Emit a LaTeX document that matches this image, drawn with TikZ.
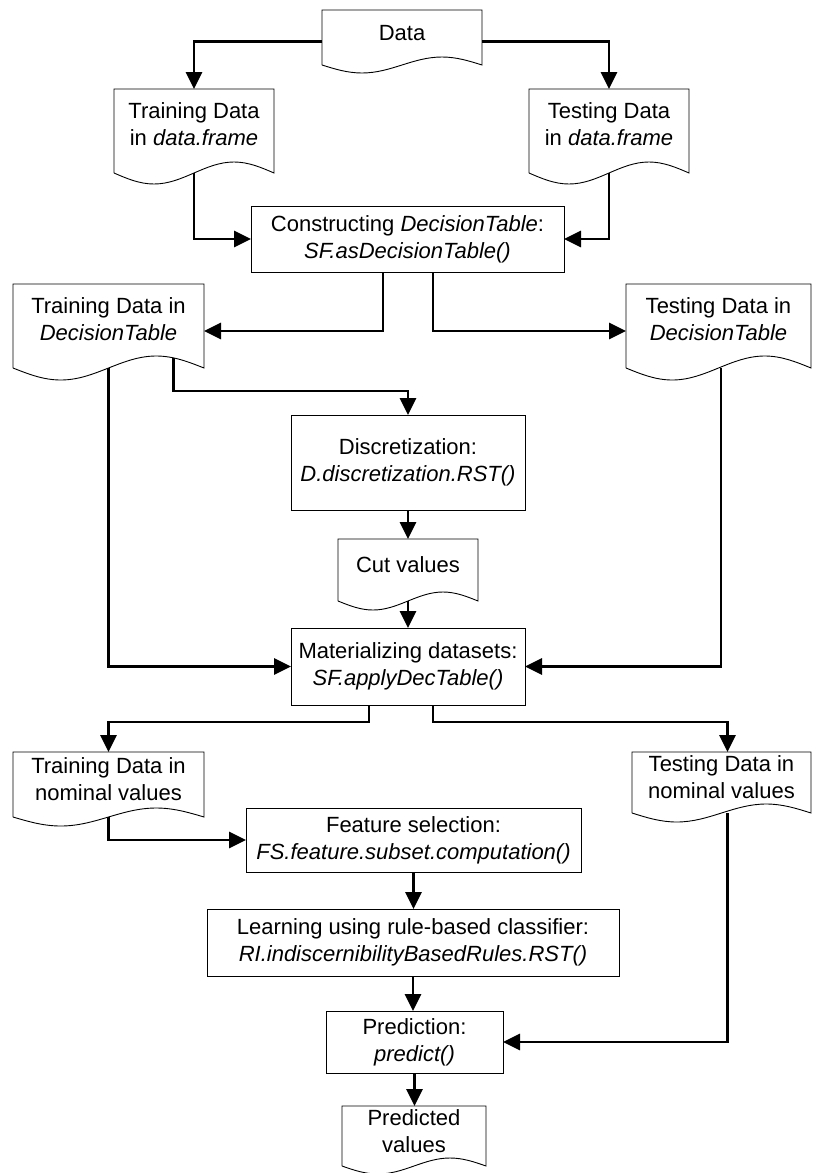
\documentclass[tikz,border=0pt]{standalone}
\usepackage{fontspec}
\setmainfont{Liberation Sans}
\usetikzlibrary{arrows.meta,calc}

\tikzset{
  txtfont/.style={font=\fontsize{22}{27}\selectfont},
  procbox/.style={draw, line width=0.9pt, inner sep=0pt, outer sep=0pt, align=center, txtfont},
  docbody/.style={inner sep=0pt, outer sep=0pt},
  docline/.style={draw, line width=0.9pt, line join=miter},
  doctext/.style={inner sep=0pt, align=center, txtfont},
  flow/.style={line width=2.9pt, line join=miter, -{Triangle[length=17pt,width=16pt]}},
}

% document symbol: #1 name, #2 left, #3 top, #4 right, #5 side bottom, #6 wave amplitude, #7 text
\newcommand\docshape[7]{%
  \node[docbody, minimum width={(#4-#2)*1pt}, minimum height={(#5-#3)*1pt}] (#1)
    at ({(#2+#4)/2},{(#3+#5)/2}) {};
  \draw[docline] (#1.south west) -- (#1.north west) -- (#1.north east) -- (#1.south east)
    sin ++({-(#4-#2)/4},{-#6}) cos ++({-(#4-#2)/4},{#6})
    sin ++({-(#4-#2)/4},{#6}) cos ++({-(#4-#2)/4},{-#6});
  \node[doctext] (#1-text) at ($(#1.north)!0.42!(#1.south)$) {#7};
}

\begin{document}
\begin{tikzpicture}[x=1pt,y=-1pt]
\useasboundingbox (0,0) rectangle (812,1173);

% data objects
\docshape{data}{322}{10}{482}{65}{8}{Data}
\docshape{trdf}{114}{89}{274}{173}{11}{Training Data\\in \textit{data.frame}}
\docshape{tedf}{529}{89}{689}{173}{11}{Testing Data\\in \textit{data.frame}}
\docshape{trdt}{13}{284}{204}{368}{12}{Training Data in\\\textit{DecisionTable}}
\docshape{tedt}{626}{284}{811}{368}{12}{Testing Data in\\\textit{DecisionTable}}
\docshape{cut}{338}{539}{478}{601}{9}{Cut values}
\docshape{trnom}{13}{752}{204}{817}{9}{Training Data in\\nominal values}
\docshape{tenom}{632}{752}{811}{813}{9}{Testing Data in\\nominal values}
\docshape{predv}{342}{1106}{486}{1166}{8}{Predicted\\values}

% processing steps
\node[procbox, minimum width=313pt, minimum height=66pt] (cons) at (407.5,239)
  {Constructing \textit{DecisionTable}:\\\textit{SF.asDecisionTable()}};
\node[procbox, minimum width=234pt, minimum height=95pt] (disc) at (408,462.5)
  {Discretization:\\\textit{D.discretization.RST()}};
\node[procbox, minimum width=234pt, minimum height=77pt] (mat) at (408,666.5)
  {Materializing datasets:\\\textit{SF.applyDecTable()}};
\node[procbox, minimum width=335pt, minimum height=64pt] (feat) at (413.5,840)
  {Feature selection:\\\textit{FS.feature.subset.computation()}};
\node[procbox, minimum width=412pt, minimum height=67pt] (learn) at (413,942.5)
  {Learning using rule-based classifier:\\\textit{RI.indiscernibilityBasedRules.RST()}};
\node[procbox, minimum width=177pt, minimum height=62pt] (pred) at (414.5,1042)
  {Prediction:\\\textit{predict()}};

% connectors
\draw[flow] ([yshift=-4pt]data.west) -| (trdf.north);
\draw[flow] ([yshift=-4pt]data.east) -| (tedf.north);
\draw[flow] (trdf.south) |- (cons.west);
\draw[flow] (tedf.south) |- (cons.east);
\draw[flow] ([xshift=-24.5pt]cons.south) |- ([yshift=-5pt]trdt.east);
\draw[flow] ([xshift=25.5pt]cons.south) |- ([yshift=-5pt]tedt.west);
\draw[flow] ($(trdt.south west)!0.84!(trdt.south east)+(0,-10)$)
  |- ([yshift=24pt]disc.north) -- (disc.north);
\draw[flow] (trdt.south) |- (mat.west);
\draw[flow] ([xshift=2.5pt]tedt.south) |- (mat.east);
\draw[flow] (disc.south) -- (cut.north);
\draw[flow] (cut.south) -- (mat.north);
\draw[flow] ([xshift=-39pt]mat.south) |- ([yshift=30pt]trnom.north) -- (trnom.north);
\draw[flow] ([xshift=25pt]mat.south) |- ([xshift=6pt,yshift=30pt]tenom.north) -- ([xshift=6pt]tenom.north);
\draw[flow] (trnom.south) |- (feat.west);
\draw[flow] (feat.south) -- (feat.south |- learn.north);
\draw[flow] (learn.south) -- (learn.south |- pred.north);
\draw[flow] ([xshift=6pt]tenom.south) |- (pred.east);
\draw[flow] (pred.south) -- (pred.south |- predv.north);
\end{tikzpicture}
\end{document}
